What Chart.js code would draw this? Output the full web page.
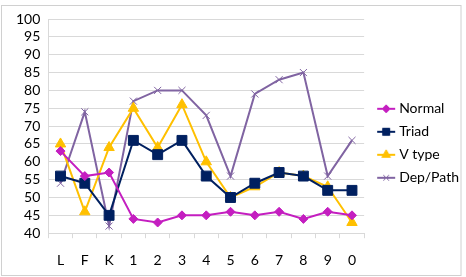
<!DOCTYPE html>
<html>
<head>
<meta charset="utf-8">
<script src="https://cdn.jsdelivr.net/npm/chart.js@4/dist/chart.umd.min.js"></script>
<style>
  html, body { margin: 0; padding: 0; background: #fff; }
  #wrap { width: 466px; height: 277px; position: relative; }
</style>
</head>
<body>
<div id="wrap"><canvas id="chart" width="466" height="277"></canvas></div>
<script>
const categories = ["L", "F", "K", "1", "2", "3", "4", "5", "6", "7", "8", "9", "0"];
const normal = [63, 56, 57, 44, 43, 45, 45, 46, 45, 46, 44, 46, 45];
const triad = [56, 54, 45, 66, 62, 66, 56, 50, 54, 57, 56, 52, 52];
const vType = [65, 46, 64, 75, 64, 76, 60, 50, 53, 57, 56, 53, 43];
const depPath = [54, 74, 42, 77, 80, 80, 73, 56, 79, 83, 85, 56, 66];

const FONT = "Lato, Carlito, 'Liberation Sans', sans-serif";

// legend symbol: short line with the marker on it, drawn in the right part of a small canvas
const legendIcon = (color, style, r) => {
  const c = document.createElement("canvas");
  c.width = 31;
  c.height = 12;
  const ctx = c.getContext("2d");
  ctx.strokeStyle = color;
  ctx.fillStyle = color;
  ctx.lineWidth = 2;
  ctx.beginPath();
  ctx.moveTo(10, 6);
  ctx.lineTo(28, 6);
  ctx.stroke();
  ctx.lineWidth = 1;
  Chart.helpers.drawPoint(ctx, { pointStyle: style, radius: r, borderWidth: 1, rotation: 0 }, 19, 6);
  return c;
};

const series = [
  { label: "Normal", data: normal, color: "#C41EC0", style: "rectRot", r: 4.5, lr: 4 },
  { label: "Triad", data: triad, color: "#002060", style: "rect", r: 7, lr: 5 },
  { label: "V type", data: vType, color: "#FFC000", style: "triangle", r: 6, lr: 5 },
  { label: "Dep/Path", data: depPath, color: "#8064A2", style: "crossRot", r: 5, lr: 4 },
];

const frame = {
  id: "frame",
  beforeDraw(chart) {
    const ctx = chart.ctx;
    ctx.save();
    ctx.strokeStyle = "#d0d0d0";
    ctx.lineWidth = 1;
    ctx.strokeRect(1.5, 5.5, 459.5, 270);
    ctx.restore();
  },
};

new Chart(document.getElementById("chart").getContext("2d"), {
  type: "line",
  data: {
    labels: categories,
    datasets: series.map((s) => ({
      label: s.label,
      data: s.data,
      borderColor: s.color,
      backgroundColor: s.color,
      borderWidth: 2,
      pointStyle: s.style,
      pointRadius: s.r,
      pointBorderWidth: 1,
      pointHoverRadius: s.r,
      tension: 0,
    })),
  },
  options: {
    responsive: false,
    animation: false,
    layout: { padding: { left: 8, top: 19, right: -3, bottom: -6 } },
    scales: {
      y: {
        min: 40,
        max: 100,
        ticks: { stepSize: 5, autoSkip: false, padding: 8, color: "#000", font: { family: FONT, size: 14 } },
        grid: { color: "#d9d9d9", drawTicks: false },
        border: { color: "#d9d9d9" },
      },
      x: {
        offset: true,
        ticks: { padding: 14, autoSkip: false, maxRotation: 0, color: "#000", font: { family: FONT, size: 14 } },
        grid: { offset: true, drawOnChartArea: false, tickLength: 5, color: "#d9d9d9" },
        border: { color: "#d9d9d9" },
      },
    },
    plugins: {
      tooltip: { enabled: false },
      legend: {
        position: "right",
        align: "start",
        // empty title only used as top spacing for the legend block
        title: { display: true, text: "", padding: { top: 57, bottom: 0 }, font: { family: FONT, size: 14 } },
        labels: {
          usePointStyle: true,
          pointStyleWidth: 19,
          color: "#000",
          padding: 9,
          font: { family: FONT, size: 14 },
          generateLabels: () =>
            series.map((s, i) => ({
              text: s.label,
              pointStyle: legendIcon(s.color, s.style, s.lr),
              fillStyle: s.color,
              strokeStyle: s.color,
              lineWidth: 0,
              fontColor: "#000",
              datasetIndex: i,
              hidden: false,
            })),
        },
      },
    },
  },
  plugins: [frame],
});
</script>
</body>
</html>
